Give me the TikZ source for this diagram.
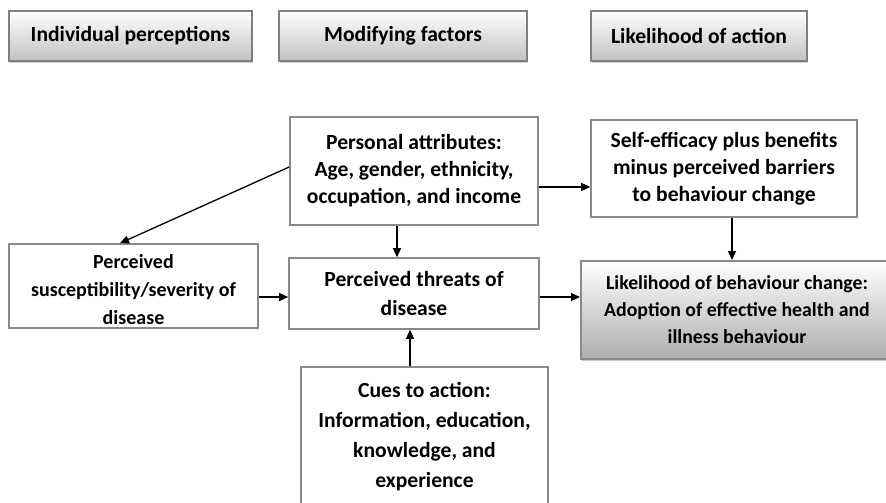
\documentclass[tikz,border=0pt]{standalone}
\usepackage{fontspec}
\setmainfont{Carlito}
\usetikzlibrary{arrows.meta,shadows}
\definecolor{boxline}{HTML}{8A8A8A}
\definecolor{hdrline}{HTML}{7F7F7F}
\begin{document}
\begin{tikzpicture}[x=1pt,y=-1pt,
  every node/.style={font=\bfseries\fontsize{21.6}{27}\selectfont, align=center, inner sep=0pt},
  header/.style={draw=hdrline, line width=2pt, top color=white, bottom color=black!24,
    drop shadow={shadow xshift=1pt, shadow yshift=-2pt, fill=black!25, opacity=0.8},
    minimum height=50pt},
  plainbox/.style={draw=boxline, line width=1.6pt, fill=white},
  resultbox/.style={draw=boxline, line width=2pt, top color=white, bottom color=black!32,
    drop shadow={shadow xshift=1pt, shadow yshift=-2pt, fill=black!25, opacity=0.8}},
  arr/.style={draw=black, line width=1.3pt, -{Triangle[length=9pt,width=8pt]}}]
\useasboundingbox (0,0) rectangle (886,503);

% column headings
\node[header, minimum width=243pt] (hdrA) at (130.5,36) {Individual perceptions};
\node[header, minimum width=248pt] (hdrB) at (403,36) {Modifying factors};
\node[header, minimum width=216pt] (hdrC) at (699,36) {Likelihood of action};

% model boxes
\node[plainbox, minimum width=248pt, minimum height=108pt] (personal) at (414,171)
  {Personal attributes:\\Age, gender, ethnicity,\\occupation, and income};
\node[plainbox, minimum width=266pt, minimum height=97pt] (selfeff) at (724,168.5)
  {Self-efficacy plus benefits\\minus perceived barriers\\to behaviour change};
\node[plainbox, minimum width=249pt, minimum height=84pt] (suscept) at (133.5,286) {};
\node[font=\bfseries\fontsize{20}{28}\selectfont] (susctext) at ([yshift=-4pt]suscept.center)
  {Perceived\\susceptibility/severity of\\disease};
\node[plainbox, minimum width=250pt, minimum height=71pt,
  font=\bfseries\fontsize{21.6}{29.5}\selectfont] (threats) at (414,293.5)
  {Perceived threats of\\disease};
\node[resultbox, minimum width=312pt, minimum height=98pt,
  font=\bfseries\fontsize{19.8}{27}\selectfont] (likeli) at (737,310)
  {Likelihood of behaviour change:\\Adoption of effective health and\\illness behaviour};
\node[plainbox, minimum width=247pt, minimum height=163pt] (cues) at (424.5,448.5) {};
\node[anchor=north, font=\bfseries\fontsize{21.6}{30}\selectfont] (cuestext) at ([yshift=-16pt]cues.north)
  {Cues to action:\\Information, education,\\knowledge, and\\experience};

% connectors
\draw[arr] ([yshift=-16pt]personal.east) -- ([yshift=-16pt]personal.east -| selfeff.west);
\draw[arr] ([yshift=4pt]personal.west) -- ([xshift=-13.5pt]suscept.north);
\draw[arr] ([xshift=-17pt]personal.south) -- ([xshift=-17pt]personal.south |- threats.north);
\draw[arr] ([yshift=-11pt]suscept.east) -- ([yshift=-11pt]suscept.east -| threats.west);
\draw[arr] ([yshift=-3.5pt]threats.east) -- ([yshift=-3.5pt]threats.east -| likeli.west);
\draw[arr] ([xshift=8pt]selfeff.south) -- ([xshift=8pt]selfeff.south |- likeli.north);
\draw[arr] ([xshift=-14.5pt]cues.north) -- ([xshift=-14.5pt]cues.north |- threats.south);
\end{tikzpicture}
\end{document}
